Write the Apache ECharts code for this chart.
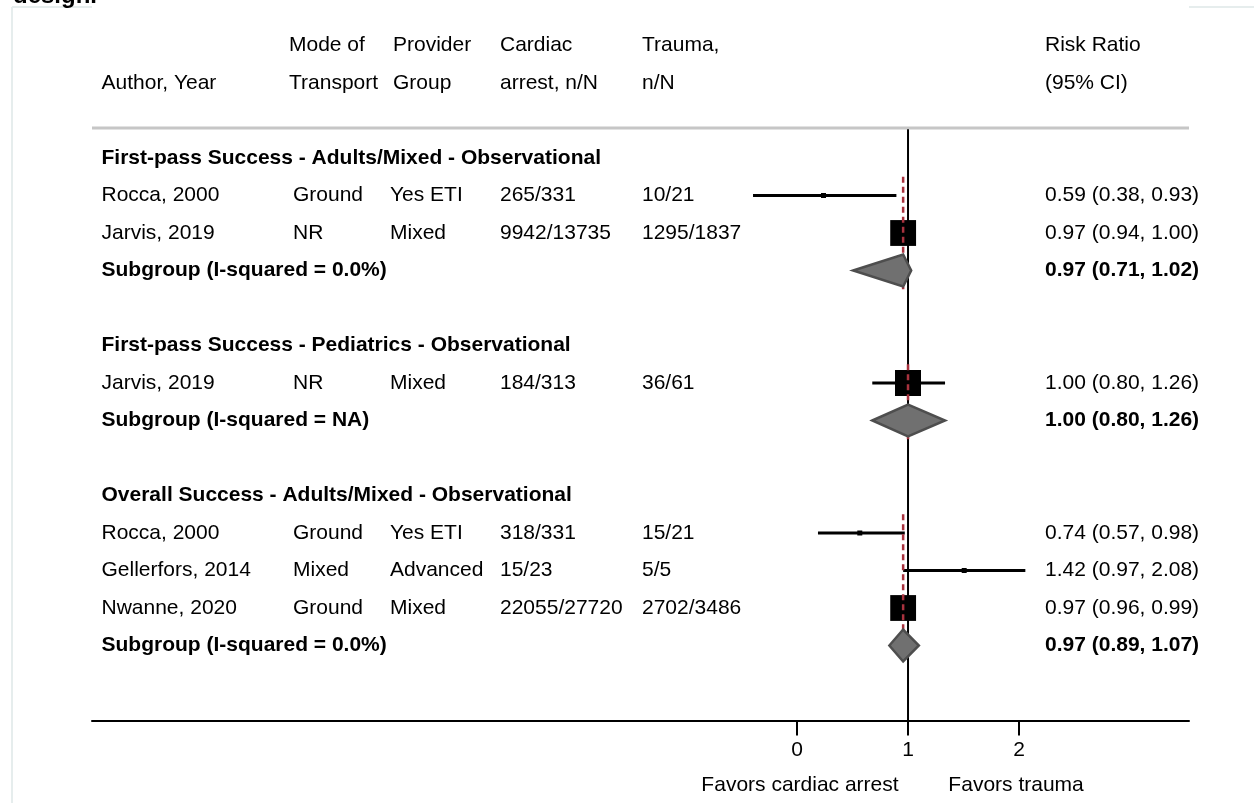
<!DOCTYPE html>
<html>
<head>
<meta charset="utf-8">
<script src="https://cdn.jsdelivr.net/npm/echarts@6/dist/echarts.min.js"></script>
<style>
  html, body { margin: 0; padding: 0; background: #fff; }
  #chart { width: 1254px; height: 803px; }
</style>
</head>
<body>
<div id="chart"></div>
<script>
// ---- Table headers ----
const headerTop = ['', 'Mode of', 'Provider', 'Cardiac', 'Trauma,', 'Risk Ratio'];
const headerBottom = ['Author, Year', 'Transport', 'Group', 'arrest, n/N', 'n/N', '(95% CI)'];

// ---- Rows (one entry per line of the forest plot) ----
const rowType = ['group', 'study', 'study', 'pooled', 'blank',
                 'group', 'study', 'pooled', 'blank',
                 'group', 'study', 'study', 'study', 'pooled'];
const authors = [
  'First-pass Success - Adults/Mixed - Observational', 'Rocca, 2000', 'Jarvis, 2019', 'Subgroup (I-squared = 0.0%)', '',
  'First-pass Success - Pediatrics - Observational', 'Jarvis, 2019', 'Subgroup (I-squared = NA)', '',
  'Overall Success - Adults/Mixed - Observational', 'Rocca, 2000', 'Gellerfors, 2014', 'Nwanne, 2020', 'Subgroup (I-squared = 0.0%)'
];
const transport = ['', 'Ground', 'NR', '', '', '', 'NR', '', '', '', 'Ground', 'Mixed', 'Ground', ''];
const provider = ['', 'Yes ETI', 'Mixed', '', '', '', 'Mixed', '', '', '', 'Yes ETI', 'Advanced', 'Mixed', ''];
const cardiacArrest = ['', '265/331', '9942/13735', '', '', '', '184/313', '', '', '', '318/331', '15/23', '22055/27720', ''];
const traumaCounts = ['', '10/21', '1295/1837', '', '', '', '36/61', '', '', '', '15/21', '5/5', '2702/3486', ''];
const riskRatio = [null, 0.59, 0.97, 0.97, null, null, 1.00, 1.00, null, null, 0.74, 1.42, 0.97, 0.97];
const ciLower   = [null, 0.38, 0.94, 0.71, null, null, 0.80, 0.80, null, null, 0.57, 0.97, 0.96, 0.89];
const ciUpper   = [null, 0.93, 1.00, 1.02, null, null, 1.26, 1.26, null, null, 0.98, 2.08, 0.99, 1.07];
const weights   = [null, 1.2, 98.8, null, null, null, 100, null, null, null, 1.0, 0.4, 98.6, null];

// ---- Axis ----
const tickValues = [0.5, 1, 2];
const tickLabels = ['0', '1', '2'];
const favorLabels = ['Favors cardiac arrest', 'Favors trauma'];

// ---- Layout / style constants ----
const FONT = '"Liberation Sans", Arial, sans-serif';
const FS = 21;
const X_MIN = -5.094, X_MAX = 1.754;          // natural-log risk-ratio extent of the plot
const COL_X = [101.5, 289, 393, 500, 642, 1045]; // header column x
const ROW_X = [101.5, 293, 390, 500, 642, 1045]; // body column x
const ROW_START = -4, ROW_END = 15;

const fmt = v => v.toFixed(2);
const rrText = i => `${fmt(riskRatio[i])} (${fmt(ciLower[i])}, ${fmt(ciUpper[i])})`;

function txt(x, y, text, bold, align) {
  return {
    type: 'text', x: x, y: y,
    style: {
      text: text, fill: '#000', align: align || 'left', verticalAlign: 'middle',
      font: (bold ? 'bold ' : '') + FS + 'px ' + FONT
    }
  };
}

const rowIdx = authors.map((_, i) => i);
const studyRows = rowIdx.filter(i => rowType[i] === 'study');
const pooledRows = rowIdx.filter(i => rowType[i] === 'pooled');
// first row of each group, used for the dashed pooled-estimate line
const groupStart = pooledRows.map(p => {
  let g = p; while (g > 0 && rowType[g] !== 'group') g--; return g;
});

const chart = echarts.init(document.getElementById('chart'), null, { renderer: 'canvas' });

const option = {
  animation: false,
  backgroundColor: '#fff',
  grid: { left: 92, right: 65, top: 8, bottom: 82.5, containLabel: false },
  xAxis: {
    type: 'value', min: X_MIN, max: X_MAX,
    axisLine: { show: true, onZero: false, lineStyle: { color: '#000', width: 2 } },
    axisTick: { show: true, length: 15, lineStyle: { color: '#000', width: 2 },
                customValues: tickValues.map(Math.log) },
    axisLabel: {
      customValues: tickValues.map(Math.log), margin: 19,
      color: '#000', fontSize: FS, fontFamily: FONT,
      formatter: v => {
        const k = tickValues.findIndex(t => Math.abs(Math.log(t) - v) < 1e-6);
        return k >= 0 ? tickLabels[k] : '';
      }
    },
    splitLine: { show: false }
  },
  yAxis: { type: 'value', inverse: true, min: ROW_START, max: ROW_END, show: false },
  graphic: [
    // light outer frame
    { type: 'line', shape: { x1: 12, y1: 7, x2: 12, y2: 803 }, style: { stroke: '#e6eded', lineWidth: 2 }, z: 0 },
    { type: 'line', shape: { x1: 12, y1: 7, x2: 92, y2: 7 }, style: { stroke: '#e6eded', lineWidth: 2 }, z: 0 },
    { type: 'line', shape: { x1: 1189, y1: 7, x2: 1254, y2: 7 }, style: { stroke: '#e6eded', lineWidth: 2 }, z: 0 },
    { type: 'text', x: 13, y: 8, style: { text: 'design.', fill: '#000', font: 'bold 24px ' + FONT, verticalAlign: 'bottom' } }
  ],
  series: [
    // separator under the header
    {
      type: 'custom', z: 1, data: [[-0.8]],
      renderItem: (p, api) => {
        const a = api.coord([X_MIN, api.value(0)]), b = api.coord([X_MAX, api.value(0)]);
        return { type: 'line', shape: { x1: a[0], y1: a[1], x2: b[0], y2: b[1] },
                 style: { stroke: '#c6c6c6', lineWidth: 3 } };
      }
    },
    // line of no effect (RR = 1)
    {
      type: 'custom', z: 2, data: [[0, -0.77, ROW_END]],
      renderItem: (p, api) => {
        const a = api.coord([api.value(0), api.value(1)]), b = api.coord([api.value(0), api.value(2)]);
        return { type: 'line', shape: { x1: a[0], y1: a[1], x2: b[0], y2: b[1] },
                 style: { stroke: '#000', lineWidth: 2 } };
      }
    },
    // header text
    {
      type: 'custom', z: 5, data: [[-3, 0], [-2, 1]],
      renderItem: (p, api) => {
        const y = api.coord([0, api.value(0)])[1];
        const labels = api.value(1) === 0 ? headerTop : headerBottom;
        return { type: 'group', children: labels.map((t, c) => txt(COL_X[c], y, t, false)) };
      }
    },
    // table body text
    {
      type: 'custom', z: 5, data: rowIdx.map(i => [i]),
      renderItem: (p, api) => {
        const i = p.dataIndex;
        const y = api.coord([0, api.value(0)])[1];
        const kind = rowType[i];
        const children = [];
        if (kind === 'group') {
          children.push(txt(ROW_X[0], y, authors[i], true));
        } else if (kind === 'pooled') {
          children.push(txt(ROW_X[0], y, authors[i], true));
          children.push(txt(ROW_X[5], y, rrText(i), true));
        } else if (kind === 'study') {
          [authors[i], transport[i], provider[i], cardiacArrest[i], traumaCounts[i]]
            .forEach((t, c) => children.push(txt(ROW_X[c], y, t, false)));
          children.push(txt(ROW_X[5], y, rrText(i), false));
        }
        return { type: 'group', children: children };
      }
    },
    // study confidence intervals and weight boxes
    {
      type: 'custom', z: 3,
      data: studyRows.map(i => [i, Math.log(riskRatio[i]), Math.log(ciLower[i]), Math.log(ciUpper[i]), weights[i]]),
      renderItem: (p, api) => {
        const r = api.value(0);
        const c = api.coord([api.value(1), r]);
        const lo = api.coord([api.value(2), r]);
        const hi = api.coord([api.value(3), r]);
        const s = Math.max(5, 26 * Math.sqrt(api.value(4) / 100));
        return {
          type: 'group', children: [
            { type: 'line', shape: { x1: lo[0], y1: lo[1], x2: hi[0], y2: hi[1] },
              style: { stroke: '#000', lineWidth: 3 } },
            { type: 'rect', shape: { x: c[0] - s / 2, y: c[1] - s / 2, width: s, height: s },
              style: { fill: '#000' } }
          ]
        };
      }
    },
    // pooled estimate reference lines
    {
      type: 'custom', z: 4,
      data: pooledRows.map((pr, k) => [Math.log(riskRatio[pr]), groupStart[k] + 0.5, pr + 0.5]),
      renderItem: (p, api) => {
        const a = api.coord([api.value(0), api.value(1)]), b = api.coord([api.value(0), api.value(2)]);
        return { type: 'line', shape: { x1: a[0], y1: a[1], x2: b[0], y2: b[1] },
                 style: { stroke: '#a8323e', lineWidth: 2.5, lineDash: [6, 4] } };
      }
    },
    // pooled diamonds
    {
      type: 'custom', z: 6,
      data: pooledRows.map(i => [i, Math.log(riskRatio[i]), Math.log(ciLower[i]), Math.log(ciUpper[i])]),
      renderItem: (p, api) => {
        const r = api.value(0);
        const c = api.coord([api.value(1), r]);
        const lo = api.coord([api.value(2), r]);
        const hi = api.coord([api.value(3), r]);
        const h = 16;
        return {
          type: 'polygon',
          shape: { points: [[lo[0], c[1]], [c[0], c[1] - h], [hi[0], c[1]], [c[0], c[1] + h]] },
          style: { fill: '#707070', stroke: '#4e4e4e', lineWidth: 2.5, lineJoin: 'miter' }
        };
      }
    },
    // favour labels under the axis
    {
      type: 'custom', z: 5,
      data: [[Math.log(tickValues[0]), 0], [Math.log(tickValues[2]), 1]],
      renderItem: (p, api) => {
        const k = api.value(1);
        const pt = api.coord([api.value(0), ROW_END]);
        return txt(pt[0] + (k === 0 ? 3 : -3), pt[1] + 65, favorLabels[k], false, 'center');
      }
    }
  ]
};

chart.setOption(option);
</script>
</body>
</html>
